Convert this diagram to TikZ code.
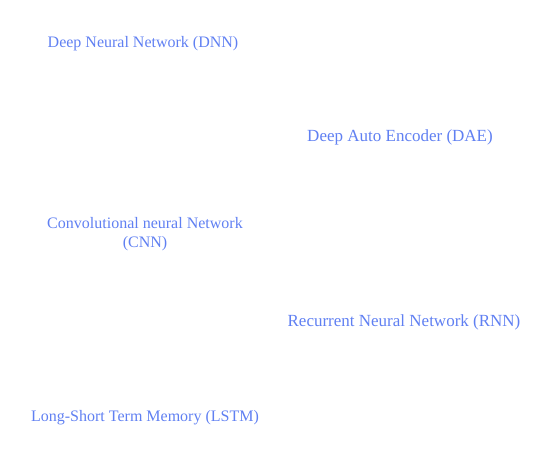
\documentclass[tikz,border=0pt]{standalone}
\usepackage{fontspec}
\setmainfont{Liberation Serif}
\usetikzlibrary{positioning}
\definecolor{labelblue}{RGB}{96,128,242}

\begin{document}
\begin{tikzpicture}[x=1pt,y=-1pt]

\tikzset{
    model/.style={text=labelblue,align=center,inner sep=0pt,font=\fontsize{16}{19}\selectfont},
    bigmodel/.style={model,font=\fontsize{17}{20}\selectfont}
}
% variables
\def\leftx{145}
\def\rightx{402}

\useasboundingbox (0,0) rectangle (536,458);

% ----------- left column ----------- %
\node[model] (dnn) at (\leftx-2,44) {Deep Neural Network (DNN)};
\node[model] (cnn) at (\leftx,234) {Convolutional neural Network\\(CNN)};
\node[model] (lstm) at (\leftx,418) {Long-Short Term Memory (LSTM)};

% ----------- right column ----------- %
\node[bigmodel] (dae) at (\rightx-2,137) {Deep Auto Encoder (DAE)};
\node[bigmodel] (rnn) at (\rightx+2,322) {Recurrent Neural Network (RNN)};

\end{tikzpicture}
\end{document}
